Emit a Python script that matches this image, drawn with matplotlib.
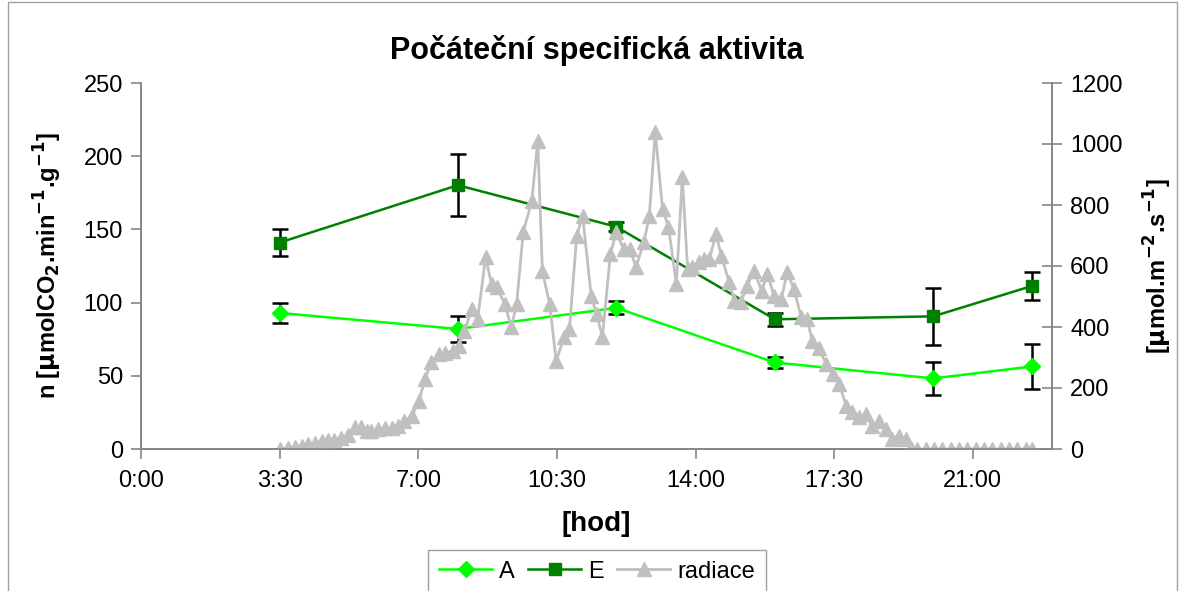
import matplotlib
matplotlib.use("Agg")
import matplotlib.pyplot as plt
from matplotlib.patches import Rectangle

plt.rcParams['font.family'] = ['Liberation Sans', 'DejaVu Sans']

# ---- data ----
times_AE = ["3:30", "8:00", "12:00", "16:00", "20:00", "22:30"]
A_vals = [92.9, 82.0, 96.4, 59.1, 48.2, 56.4]
A_err = [6.5, 9.0, 4.5, 3.5, 11.3, 15.4]
E_vals = [141.0, 180.2, 151.8, 88.6, 90.6, 111.4]
E_err = [9.5, 21.0, 3.0, 4.6, 19.4, 9.4]

# radiation: time in minutes since midnight, value
rad_min = [210, 222, 233, 244, 253, 263, 274, 283, 293, 303, 313, 324, 333, 342, 349,
           359, 369, 380, 389, 399, 410, 421, 430, 440, 451, 461, 472, 481, 490, 501,
           510, 522, 531, 539, 551, 561, 569, 579, 592, 601, 608, 619, 629, 641, 649,
           660, 669, 682, 690, 699, 711, 720, 731, 740, 750, 762, 770, 779, 790, 799,
           811, 820, 828, 835, 846, 853, 861, 871, 879, 891, 899, 909, 918, 929, 940,
           949, 959, 970, 979, 989, 1000, 1009, 1017, 1027, 1038, 1048, 1058, 1068, 1077, 1088,
           1098, 1107, 1118, 1129, 1138, 1148, 1159, 1166, 1176, 1189, 1201, 1213, 1227, 1239, 1251,
           1265, 1277, 1289, 1303, 1315, 1327, 1340, 1350]
rad_val = [0, 3, 6, 10, 15, 20, 25, 28, 30, 35, 47, 73, 73, 60, 60,
           65, 68, 68, 76, 92, 107, 157, 228, 285, 311, 315, 321, 338, 387, 459,
           426, 629, 541, 531, 475, 400, 475, 711, 813, 1010, 584, 475, 289, 367, 393,
           699, 764, 502, 443, 367, 639, 711, 656, 656, 597, 679, 764, 1040, 787, 728,
           541, 892, 590, 597, 613, 623, 623, 705, 633, 547, 485, 482, 535, 584, 518,
           574, 502, 492, 580, 525, 433, 426, 354, 330, 279, 246, 213, 141, 121, 105,
           115, 75, 92, 66, 33, 43, 33, 3, 0, 0, 0, 0, 0, 0, 0,
           0, 0, 0, 0, 0, 0, 0, 0]

xtick_labels = ["0:00", "3:30", "7:00", "10:30", "14:00", "17:30", "21:00"]
left_ticks = [0, 50, 100, 150, 200, 250]
right_ticks = [0, 200, 400, 600, 800, 1000, 1200]


def to_min(s):
    h, m = s.split(":")
    return int(h) * 60 + int(m)


t_AE = [to_min(s) for s in times_AE]
xticks = [to_min(s) for s in xtick_labels]

W, H = 1184, 591
fig = plt.figure(figsize=(W / 100, H / 100), dpi=100)
ax = fig.add_axes([141 / W, 1 - 449 / H, (1052 - 141) / W, (449 - 83) / H])
ax2 = ax.twinx()

axis_col = '#868686'
fs_tick = 17

# A and E on primary axis
ax.errorbar(t_AE, A_vals, yerr=A_err, fmt='none', ecolor='black', elinewidth=1.8,
            capsize=5.5, capthick=1.8, zorder=3)
ax.errorbar(t_AE, E_vals, yerr=E_err, fmt='none', ecolor='black', elinewidth=1.8,
            capsize=5.5, capthick=1.8, zorder=3)
lA, = ax.plot(t_AE, A_vals, color='#00FF00', lw=1.8, marker='D', ms=8.5,
              mfc='#00FF00', mec='#00FF00', zorder=4, label='A')
lE, = ax.plot(t_AE, E_vals, color='#008000', lw=1.8, marker='s', ms=8.5,
              mfc='#008000', mec='#008000', zorder=4, label='E')

lR, = ax2.plot(rad_min, rad_val, color='#C0C0C0', lw=2.0, marker='^', ms=10,
               mfc='#C0C0C0', mec='#C0C0C0', label='radiace')

ax.set_xlim(0, 23 * 60)
ax.set_ylim(0, 250)
ax2.set_ylim(0, 1200)
ax.set_xticks(xticks)
ax.set_xticklabels(xtick_labels)
ax.set_yticks(left_ticks)
ax2.set_yticks(right_ticks)

for a in (ax, ax2):
    a.spines['top'].set_visible(False)
    for s in ('left', 'right', 'bottom'):
        a.spines[s].set_color(axis_col)
        a.spines[s].set_linewidth(1.2)
    a.tick_params(colors=axis_col, labelcolor='black', labelsize=fs_tick, width=1.2)
ax.tick_params(axis='y', direction='out', length=7, pad=6)
ax.tick_params(axis='x', direction='out', length=7, pad=8)
ax2.tick_params(axis='y', direction='inout', length=14, pad=6)

ax.set_title('Počáteční specifická aktivita', fontsize=22, fontweight='bold', pad=17)
ax.set_xlabel('[hod]', fontsize=20, fontweight='bold', labelpad=14)
ax.set_ylabel(r'n [$\mathbf{\mu}$molCO$_\mathbf{2}$.min$^\mathbf{-1}$.g$^\mathbf{-1}$]',
              fontsize=17, fontweight='bold', labelpad=14)
ax2.set_ylabel(r'[$\mathbf{\mu}$mol.m$^\mathbf{-2}$.s$^\mathbf{-1}$]',
               fontsize=17, fontweight='bold', labelpad=14)

leg = fig.legend(handles=[lA, lE, lR], loc='upper center',
                 bbox_to_anchor=(597 / W, 1 - 550 / H), ncol=3, fontsize=17,
                 frameon=True, fancybox=False, edgecolor=axis_col,
                 handlelength=2.25, columnspacing=0.55, handletextpad=0.3,
                 borderpad=0.45, borderaxespad=0)
leg.get_frame().set_linewidth(1.0)

fig.patches.append(Rectangle((8 / W, -0.1), (1177 - 8) / W, 1.1 - 2 / H,
                             transform=fig.transFigure, fill=False,
                             edgecolor='#A0A0A0', lw=1.0))

fig.savefig('out.png', dpi=100)
